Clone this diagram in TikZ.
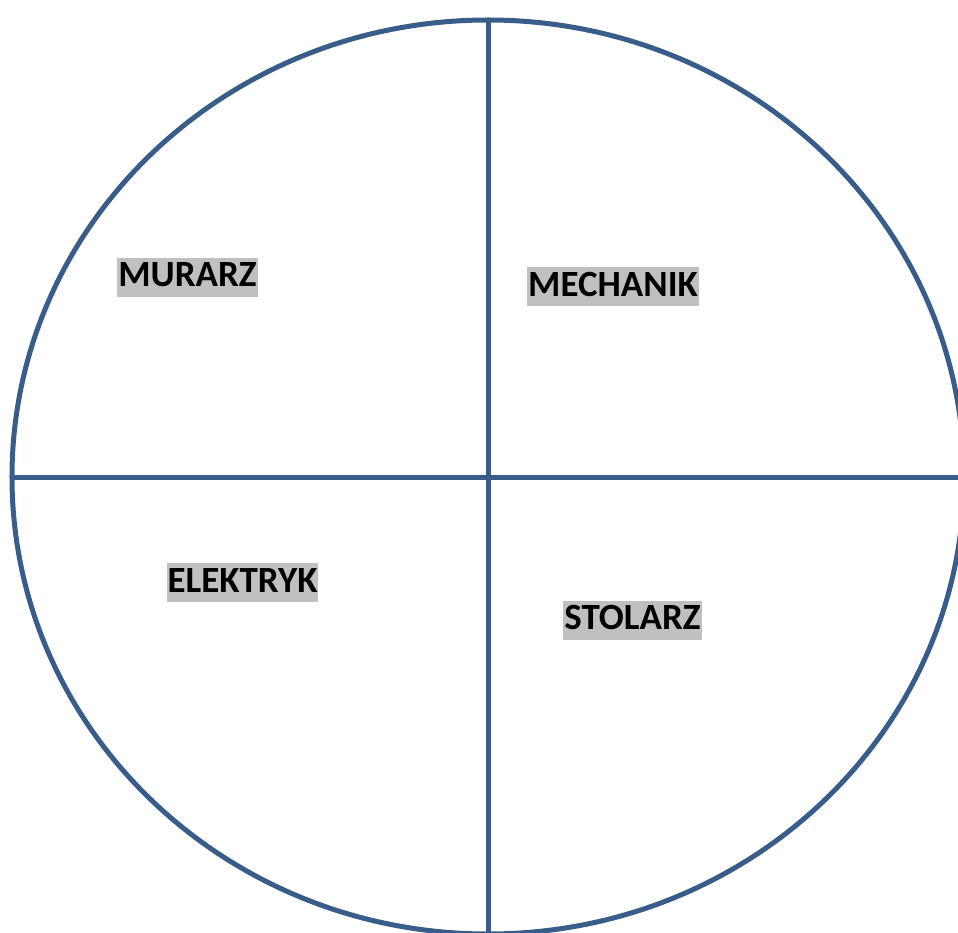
\documentclass[tikz,border=0pt]{standalone}
\usepackage{fontspec}
\setmainfont{Carlito}
\definecolor{ramka}{HTML}{385D8A}
\definecolor{zvyraz}{HTML}{C0C0C0}
\tikzstyle{every node}=[font=\fontsize{37pt}{41pt}\selectfont\bfseries]
\tikzstyle{zawod}=[fill=zvyraz, inner xsep=1pt, inner ysep=0pt, text height=29pt, text depth=10pt]
\tikzstyle{obrys}=[draw=ramka, line width=5pt]

\begin{document}
\begin{tikzpicture}[x=1pt, y=1pt]
	            % Rámeček obrázku
	            \clip (-488,-455) rectangle (470,477);

	            % Elipsa
	            \draw[obrys] (0,0) ellipse (476 and 457);

	            % Osy kříže
	            \draw[obrys] (-476,0) -- (480,0);
	            \draw[obrys] (0,457) -- (0,-470);

	            % Popisky
	            \node[zawod] (murarz) at (-300.5,199.5) {MURARZ};
	            \node[zawod] (mechanik) at (125,190.5) {MECHANIK};
	            \node[zawod] (elektryk) at (-245.5,-105.5) {ELEKTRYK};
	            \node[zawod] (stolarz) at (144.5,-143) {STOLARZ};
	        \end{tikzpicture}
\end{document}
